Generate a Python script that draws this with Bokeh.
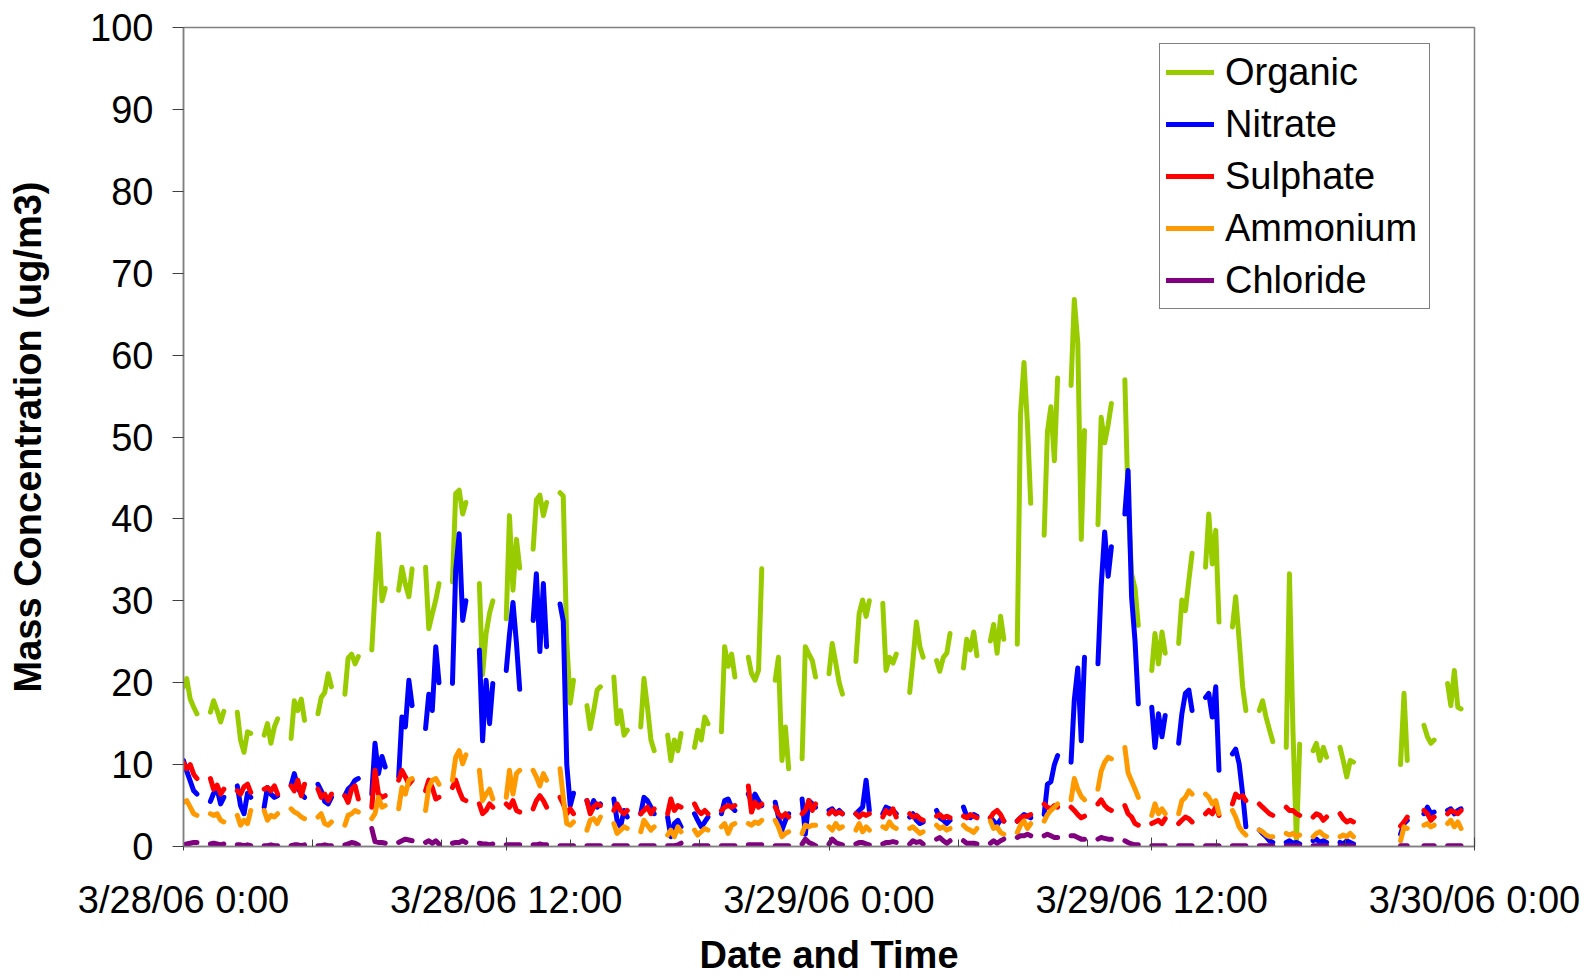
import math
from bokeh.plotting import figure
from bokeh.models import FixedTicker, Range1d, Legend, LegendItem
from bokeh.embed import file_html
from bokeh.resources import INLINE

# ---------------- data ----------------
# Each hour (3/28/06 0:00 = hour 0) has a ~30 minute block of samples.
SEGMENT_HOURS = list(range(48))
SAMPLE_OFFSETS = [0.0, 0.12, 0.25, 0.38, 0.5]   # hours after block start
X_TICKS = [0, 12, 24, 36, 48]
X_TICK_LABELS = ["3/28/06 0:00", "3/28/06 12:00", "3/29/06 0:00", "3/29/06 12:00", "3/30/06 0:00"]
X_MINOR_TICKS = [4.8, 9.6, 14.4, 19.2, 28.8, 33.6, 38.4, 43.2]
Y_TICKS = [0, 10, 20, 30, 40, 50, 60, 70, 80, 90, 100]

organic = [
    [19.5, 20.5, 18.0, 17.0, 16.2], [16.4, 17.8, 16.6, 15.2, 16.5], [16.4, 13.0, 11.5, 14.0, 13.8],
    [13.6, 15.0, 12.6, 14.6, 15.6], [13.2, 17.8, 16.6, 18.0, 15.4], [16.2, 18.2, 18.8, 21.1, 19.5],
    [18.6, 23.0, 23.5, 22.3, 23.2], [24.0, 31.0, 38.2, 30.0, 31.5], [31.3, 34.1, 32.0, 30.5, 33.9],
    [34.1, 26.6, 28.4, 30.1, 32.1], [32.3, 43.1, 43.5, 40.6, 42.0], [32.1, 21.0, 26.0, 28.5, 30.0],
    [27.8, 40.4, 31.3, 37.5, 34.0], [36.3, 42.3, 42.9, 40.4, 42.0], [43.2, 42.8, 25.0, 17.5, 20.3],
    [17.2, 14.4, 16.6, 19.1, 19.5], [20.7, 15.0, 16.6, 13.6, 14.2], [14.6, 20.5, 17.0, 13.0, 11.7],
    [13.6, 10.5, 13.0, 11.7, 13.8], [12.1, 14.2, 13.0, 15.8, 15.0], [14.0, 24.4, 22.0, 23.5, 20.7],
    [23.1, 21.1, 20.3, 21.5, 33.9], [20.3, 23.1, 10.5, 14.6, 9.5], [10.7, 24.4, 23.5, 22.7, 20.7],
    [21.1, 24.8, 22.4, 20.0, 18.6], [22.6, 28.4, 30.1, 28.1, 30.0], [29.7, 21.5, 23.1, 22.4, 23.5],
    [18.8, 22.7, 27.4, 24.4, 23.1], [22.7, 21.4, 23.1, 23.6, 26.0], [21.8, 25.3, 24.0, 26.2, 23.3],
    [25.1, 27.1, 23.6, 28.1, 25.3], [24.7, 52.8, 59.1, 51.5, 41.9], [38.0, 50.6, 53.7, 47.1, 57.2],
    [56.3, 66.8, 61.5, 37.5, 50.8], [39.3, 52.4, 49.3, 51.5, 54.1], [57.0, 42.0, 33.3, 31.5, 27.0],
    [21.5, 26.0, 22.3, 26.2, 23.6], [24.8, 30.1, 28.8, 32.5, 35.8], [34.1, 40.6, 34.5, 38.6, 27.4],
    [26.8, 30.5, 25.2, 19.5, 16.6], [16.6, 17.8, 15.8, 14.2, 12.8], [12.1, 33.3, 14.2, 0.5, 12.5],
    [11.7, 12.6, 10.5, 12.1, 10.9], [12.1, 10.5, 8.5, 10.5, 10.3], None,
    [None, None, 10.0, 18.7, 10.5], [None, 14.8, 13.4, 12.6, 13.0], [19.9, 17.2, 21.5, 17.0, 16.8],
]

nitrate = [
    [10.5, 9.2, 8.0, 6.8, 6.4], [5.5, 6.5, 7.0, 5.2, 6.0], [7.4, 5.0, 4.0, 6.5, 6.0],
    [4.8, 7.2, 6.4, 6.0, 6.2], [7.5, 8.9, 7.2, 6.4, 6.0], [7.6, 6.8, 5.5, 5.2, 6.0],
    [6.2, 7.0, 7.4, 8.1, 8.3], [6.4, 12.6, 8.9, 11.0, 9.7], [8.5, 15.8, 14.6, 20.3, 17.2],
    [14.4, 18.6, 16.6, 24.4, 20.0], [19.9, 33.7, 38.2, 27.6, 30.0], [24.0, 12.9, 20.3, 15.0, 19.9],
    [21.5, 25.9, 29.8, 24.8, 19.2], [27.6, 33.3, 23.8, 32.1, 24.4], [29.6, 27.5, 10.0, 5.0, 6.5],
    [5.6, 4.4, 5.6, 4.8, 5.2], [5.8, 3.2, 2.4, 4.4, 3.6], [4.0, 6.0, 5.6, 4.8, 4.0],
    [3.6, 1.2, 2.8, 3.2, 2.4], [4.0, 3.2, 2.4, 3.0, 3.6], [4.0, 5.6, 5.8, 4.8, 4.4],
    [6.4, 5.6, 6.4, 5.6, 5.0], [5.4, 3.6, 2.0, 3.2, 4.0], [5.8, 1.5, 5.6, 5.2, 4.8],
    [4.4, 4.6, 4.0, 4.4, 4.0], [4.0, 4.4, 4.8, 8.1, 4.4], [4.0, 4.8, 4.6, 4.4, 4.0],
    [3.6, 4.0, 3.2, 2.8, 3.0], [4.4, 3.5, 3.2, 2.8, 3.2], [4.8, 3.7, 3.5, 3.9, 3.7],
    [3.5, 3.1, 2.6, 3.3, 3.1], [3.1, 3.5, 3.9, 3.7, 3.5], [3.9, 7.6, 7.9, 10.0, 11.1],
    [10.3, 17.9, 21.8, 12.9, 23.1], [22.3, 31.8, 38.4, 33.0, 36.6], [40.6, 45.9, 30.5, 25.0, 17.4],
    [17.0, 12.1, 16.2, 13.4, 16.0], [12.6, 16.2, 18.7, 19.1, 16.6], [18.2, 18.7, 15.8, 19.5, 9.3],
    [11.3, 11.9, 10.1, 6.4, 2.4], [2.0, 1.6, 1.2, 0.7, 0.5], [0.5, 0.7, 0.4, 0.5, 0.3],
    [0.7, 0.9, 0.5, 0.7, 0.5], [0.5, 0.3, 0.7, 0.5, 0.3], None,
    [None, None, 1.5, 2.8, 3.2], [None, 4.0, 4.8, 4.0, 4.2], [4.4, 4.6, 4.0, 4.4, 4.6],
]

sulphate = [
    [10.2, 9.5, 10.0, 8.8, 8.3], [8.3, 7.0, 7.5, 6.4, 7.0], [6.8, 6.4, 7.3, 7.6, 6.6],
    [7.0, 7.2, 6.8, 7.4, 6.4], [7.4, 6.8, 8.1, 6.2, 7.6], [7.0, 6.0, 6.4, 5.6, 6.4],
    [6.2, 5.4, 7.0, 7.4, 5.8], [4.8, 9.3, 6.4, 6.0, 6.2], [8.1, 9.3, 8.5, 7.6, 8.1],
    [6.8, 8.1, 7.2, 5.8, 6.0], [7.2, 8.1, 6.8, 5.8, 5.6], [5.2, 4.0, 4.4, 5.2, 4.8],
    [5.2, 4.8, 5.6, 4.4, 4.2], [4.6, 5.6, 6.2, 5.6, 4.8], [6.0, 5.2, 4.0, 4.6, 4.0],
    [5.6, 4.0, 4.8, 5.2, 5.0], [4.4, 5.2, 4.4, 4.0, 4.4], [4.0, 4.4, 4.8, 4.0, 4.6],
    [4.0, 5.8, 4.4, 5.0, 4.8], [5.2, 4.4, 4.0, 4.4, 4.0], [4.4, 4.8, 5.0, 4.8, 5.0],
    [7.4, 4.2, 5.4, 4.8, 5.2], [4.8, 4.0, 3.6, 4.0, 3.6], [4.0, 4.4, 5.6, 4.4, 5.2],
    [4.0, 4.4, 4.0, 4.2, 4.0], [4.0, 3.6, 4.0, 3.8, 4.0], [3.6, 4.4, 4.0, 4.6, 3.6],
    [4.0, 3.6, 3.8, 3.4, 3.2], [3.7, 3.9, 3.5, 3.7, 3.5], [3.7, 3.5, 3.9, 3.7, 3.5],
    [3.5, 4.1, 4.4, 3.9, 3.1], [3.1, 3.5, 3.7, 3.7, 3.9], [5.2, 4.8, 4.6, 5.0, 4.8],
    [4.8, 4.4, 3.9, 3.5, 3.7], [5.2, 5.7, 5.0, 4.6, 4.4], [5.0, 4.0, 3.6, 2.8, 2.6],
    [2.8, 3.0, 3.2, 2.8, 3.4], [2.8, 3.2, 3.6, 3.4, 3.0], [4.0, 4.4, 4.0, 4.8, 3.8],
    [5.2, 6.4, 6.0, 6.2, 5.6], [5.2, 4.8, 4.4, 4.0, 3.8], [4.8, 4.4, 4.4, 4.0, 3.8],
    [3.6, 4.0, 3.8, 3.2, 3.6], [4.0, 3.4, 3.0, 3.2, 3.0], None,
    [None, None, 2.5, 3.0, 3.6], [None, 4.4, 4.0, 3.2, 3.6], [4.0, 4.4, 4.2, 4.0, 4.4],
]

ammonium = [
    [5.4, 5.6, 4.8, 4.0, 3.8], [4.0, 3.8, 4.0, 3.2, 3.0], [3.8, 2.6, 3.2, 2.8, 4.4],
    [4.4, 3.2, 3.8, 3.6, 4.0], [4.6, 4.2, 4.0, 3.6, 3.4], [3.6, 4.0, 2.8, 2.6, 3.0],
    [2.6, 3.8, 4.0, 4.4, 4.2], [3.4, 4.0, 6.0, 4.8, 5.0], [4.6, 7.2, 6.4, 8.1, 8.3],
    [4.4, 7.2, 8.1, 8.3, 7.6], [8.1, 10.9, 11.7, 10.1, 11.2], [9.3, 5.6, 6.4, 7.0, 5.8],
    [6.0, 9.3, 6.4, 8.9, 9.3], [9.3, 8.5, 7.4, 8.9, 8.1], [9.5, 6.0, 2.8, 2.6, 3.0],
    [2.0, 3.2, 3.4, 2.8, 3.6], [2.8, 1.6, 2.0, 2.4, 2.2], [1.8, 3.2, 2.6, 2.0, 2.4],
    [1.4, 2.0, 1.2, 2.4, 1.8], [2.0, 1.4, 1.8, 2.2, 2.0], [2.4, 2.8, 1.6, 2.6, 2.8],
    [2.8, 2.6, 3.0, 2.8, 3.2], [3.2, 2.4, 1.2, 1.6, 1.8], [1.6, 2.6, 2.4, 2.6, 2.6],
    [2.4, 2.0, 2.8, 2.2, 2.4], [2.0, 2.8, 1.8, 2.4, 2.0], [2.4, 2.2, 3.0, 2.4, 2.2],
    [2.2, 2.4, 2.0, 1.6, 1.8], [2.6, 2.2, 2.4, 2.0, 2.2], [2.6, 2.2, 2.0, 1.7, 2.2],
    [3.1, 2.2, 2.4, 1.7, 1.5], [1.7, 2.6, 3.1, 2.2, 2.8], [3.1, 3.9, 4.4, 4.8, 5.2],
    [5.7, 8.3, 7.0, 6.1, 5.7], [7.0, 9.2, 10.3, 10.9, 10.7], [12.1, 9.0, 8.0, 7.0, 6.0],
    [3.8, 5.2, 4.0, 4.6, 4.0], [4.0, 5.6, 6.0, 6.8, 6.4], [6.4, 6.0, 5.2, 5.6, 4.0],
    [4.4, 3.6, 2.4, 1.8, 1.4], [2.0, 1.8, 1.4, 1.2, 1.2], [1.6, 1.4, 1.6, 1.2, 1.4],
    [1.2, 1.6, 1.8, 1.4, 1.2], [1.2, 1.4, 1.2, 1.6, 1.2], None,
    [None, None, 0.7, 2.4, 2.2], [None, 2.6, 2.8, 2.4, 2.6], [2.8, 3.2, 2.4, 3.0, 2.2],
]

chloride = [
    [0.2, 0.3, 0.4, 0.5, 0.5], [0.3, 0.4, 0.3, 0.2, 0.3], [0.2, 0.2, 0.1, 0.2, 0.1],
    [0.1, 0.1, 0.2, 0.1, 0.1], [0.1, 0.2, 0.2, 0.1, 0.2], [0.1, 0.1, 0.2, 0.1, 0.1],
    [0.2, 0.3, 0.5, 0.4, 0.2], [2.2, 0.6, 0.5, 0.5, 0.4], [0.5, 0.7, 0.9, 0.8, 0.7],
    [0.5, 0.7, 0.4, 0.7, 0.3], [0.4, 0.5, 0.5, 0.7, 0.5], [0.4, 0.3, 0.3, 0.2, 0.3],
    [0.2, 0.2, 0.2, 0.2, 0.2], [0.2, 0.2, 0.3, 0.2, 0.2], [0.1, 0.1, 0.1, 0.1, 0.1],
    [0.1, 0.1, 0.1, 0.1, 0.1], [0.1, 0.1, 0.1, 0.1, 0.1], [0.1, 0.1, 0.1, 0.1, 0.1],
    [0.1, 0.1, 0.1, 0.2, 0.4], [0.1, 0.1, 0.1, 0.1, 0.1], [0.1, 0.1, 0.1, 0.1, 0.1],
    [0.2, 0.2, 0.2, 0.2, 0.2], [0.1, 0.1, 0.1, 0.1, 0.1], [0.3, 0.9, 0.5, 0.3, 0.1],
    [0.3, 0.9, 0.5, 0.3, 0.2], [0.3, 0.5, 0.5, 0.3, 0.2], [0.3, 0.5, 0.5, 0.6, 0.5],
    [0.3, 0.7, 0.5, 0.6, 0.3], [0.9, 1.1, 0.7, 0.4, 0.7], [0.7, 0.4, 0.4, 0.4, 0.3],
    [0.4, 0.7, 0.4, 0.7, 0.9], [1.1, 1.3, 1.3, 1.5, 1.3], [1.3, 1.5, 1.3, 1.1, 1.1],
    [1.3, 1.3, 1.1, 0.9, 0.9], [0.9, 1.1, 1.0, 0.9, 0.9], [0.7, 0.5, 0.3, 0.2, 0.2],
    [0.1, 0.1, 0.1, 0.1, 0.1], [0.1, 0.1, 0.1, 0.1, 0.1], [0.1, 0.1, 0.1, 0.1, 0.1],
    [0.1, 0.1, 0.1, 0.1, 0.1], [0.1, 0.1, 0.1, 0.1, 0.1], [0.1, 0.1, 0.1, 0.1, 0.1],
    [0.1, 0.1, 0.1, 0.1, 0.1], [0.1, 0.1, 0.1, 0.1, 0.1], None,
    [None, None, 0.1, 0.1, 0.1], [None, 0.1, 0.1, 0.1, 0.1], [0.1, 0.1, 0.1, 0.1, 0.1],
]

SERIES_NAMES = ["Organic", "Nitrate", "Sulphate", "Ammonium", "Chloride"]
SERIES_DATA = [organic, nitrate, sulphate, ammonium, chloride]
SERIES_COLORS = ["#99CC00", "#0000FF", "#FF0000", "#FF9900", "#800080"]


def build(series):
    xs, ys = [], []
    for h, seg in zip(SEGMENT_HOURS, series):
        if seg is None:
            continue
        for off, v in zip(SAMPLE_OFFSETS, seg):
            xs.append(h + off)
            ys.append(math.nan if v is None else v)
        xs.append(h + 0.75)
        ys.append(math.nan)
    return xs, ys


FONT = "Liberation Sans"

p = figure(width=1583, height=979, output_backend="svg", toolbar_location=None,
           x_range=Range1d(0, 48), y_range=Range1d(0, 100),
           min_border_left=183, min_border_right=109, min_border_top=27, min_border_bottom=133)
p.background_fill_color = "white"
p.border_fill_color = "white"
p.outline_line_color = "#808080"
p.outline_line_width = 1.5
p.xgrid.grid_line_color = None
p.ygrid.grid_line_color = None

items = []
for name, data, color in zip(SERIES_NAMES, SERIES_DATA, SERIES_COLORS):
    xs, ys = build(data)
    r = p.line(xs, ys, line_color=color, line_width=5, line_join="round", line_cap="round")
    items.append(LegendItem(label=name, renderers=[r]))

# x axis
xa = p.xaxis[0]
xa.ticker = FixedTicker(ticks=X_TICKS, minor_ticks=X_MINOR_TICKS)
xa.major_label_overrides = {t: lab for t, lab in zip(X_TICKS, X_TICK_LABELS)}
xa.major_label_text_font = FONT
xa.major_label_text_font_size = "38px"
xa.major_label_text_color = "black"
xa.major_label_standoff = 28
xa.major_tick_in = 9
xa.major_tick_out = 4
xa.minor_tick_in = 7
xa.minor_tick_out = 0
xa.axis_line_color = "#808080"
xa.axis_line_width = 1.5
xa.major_tick_line_color = "#404040"
xa.minor_tick_line_color = "#404040"
xa.axis_label = "Date and Time"
xa.axis_label_text_font = FONT
xa.axis_label_text_font_size = "38px"
xa.axis_label_text_font_style = "bold"
xa.axis_label_text_color = "black"
xa.axis_label_standoff = 10

# y axis
ya = p.yaxis[0]
ya.ticker = FixedTicker(ticks=Y_TICKS, minor_ticks=[])
ya.major_label_text_font = FONT
ya.major_label_text_font_size = "38px"
ya.major_label_text_color = "black"
ya.major_label_standoff = 19
ya.major_tick_in = 0
ya.major_tick_out = 11
ya.minor_tick_line_color = None
ya.axis_line_color = "#808080"
ya.axis_line_width = 1.5
ya.major_tick_line_color = "#404040"
ya.axis_label = "Mass Concentration (ug/m3)"
ya.axis_label_text_font = FONT
ya.axis_label_text_font_size = "38px"
ya.axis_label_text_font_style = "bold"
ya.axis_label_text_color = "black"
ya.axis_label_standoff = 38

legend = Legend(items=items, location=(976, 537), orientation="vertical",
                label_text_font=FONT, label_text_font_size="38px", label_text_color="black",
                label_height=44, glyph_height=44, glyph_width=48, label_width=198,
                label_standoff=11, spacing=8, padding=6, margin=0,
                border_line_color="black", border_line_width=1.2,
                background_fill_color="white", background_fill_alpha=1.0)
p.add_layout(legend)

open("out.html", "w").write(file_html(p, INLINE))
